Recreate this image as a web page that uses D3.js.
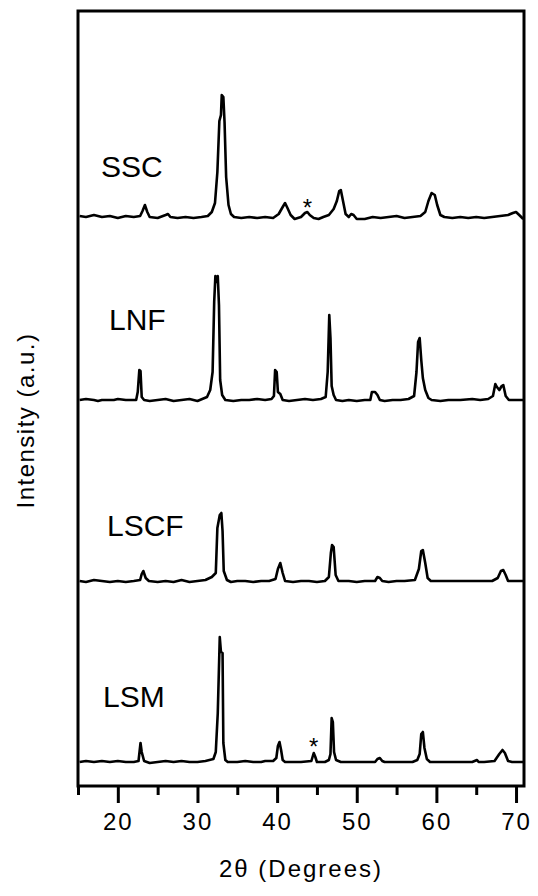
<!DOCTYPE html>
<html>
<head>
<meta charset="utf-8">
<script src="https://cdn.jsdelivr.net/npm/d3@7"></script>
<style>
  body { margin: 0; background: #fff; }
  text { font-family: "Liberation Sans", Arial, sans-serif; fill: #000; }
</style>
</head>
<body>
<div id="chart-area"></div>
<script>
// sample names, top to bottom
var samples = ["SSC", "LNF", "LSCF", "LSM"];

// vertical offset of each trace (intensity units, a.u.)
var offsets = [569, 386, 205, 24];

// [2theta, intensity]
var ssc = [[15.2,1],[16,0],[17,2],[18,0],[19,1],[20,-1],[21,1],[22,0],[22.8,1],[23.1,6],[23.4,12],[23.7,5],[24,0],[25,-1],[26,2],[26.3,3],[26.6,0],[27.5,-1],[28.5,0],[29.5,-1],[30.5,0],[31.3,1],[31.8,5],[32.2,14],[32.5,45],[32.75,96],[32.95,102],[33.05,122],[33.25,120],[33.4,95],[33.6,40],[33.9,12],[34.2,3],[34.6,0],[35.5,-1],[36.5,0],[37.5,-1],[38.5,0],[39.5,-1],[40.2,3],[40.7,10],[41.0,14],[41.3,9],[41.7,2],[42.2,-2],[43,0],[43.5,4],[43.8,5],[44.1,2],[44.6,-1],[45.2,-2],[45.8,0],[46.5,2],[47.1,8],[47.5,16],[47.8,26],[48.0,27],[48.3,15],[48.6,3],[49.0,0],[49.3,3],[49.6,2],[50,-2],[51,-2],[52,0],[53,-1],[54,0],[55,1],[56,-1],[57,0],[58,1],[58.6,5],[59.0,16],[59.4,24],[59.8,22],[60.1,12],[60.5,2],[61,0],[62,-1],[63,0],[64,-1],[65,0],[66,-1],[67,0],[68,1],[69,2],[69.6,4],[70.0,5],[70.4,2],[70.9,-2]];

var lnf = [[15.2,0],[16,1],[17,0],[17.5,-1],[18,0],[19.5,0],[20,1],[21,0],[22.3,0],[22.5,8],[22.7,30],[22.85,29],[23.0,3],[23.3,0],[24,-1],[25,0],[26,1],[27,-1],[28,0],[29,1],[30,-1],[30.6,1],[31.2,3],[31.6,10],[31.9,28],[32.1,98],[32.25,124],[32.4,118],[32.55,124],[32.7,95],[32.85,20],[33.1,5],[33.5,0],[34.5,-1],[35.5,0],[36.5,0],[37.5,1],[38.5,0],[39.3,1],[39.6,4],[39.75,30],[39.95,28],[40.1,8],[40.4,6],[40.7,0],[41.5,-1],[42.5,0],[43.5,1],[44.5,0],[45.5,1],[46.1,3],[46.35,28],[46.55,85],[46.7,62],[46.85,14],[47.1,5],[47.4,0],[48.2,-1],[49,0],[50,-1],[51,0],[51.7,0],[51.9,8],[52.3,8],[52.6,5],[52.9,0],[53.5,-1],[54.5,0],[55.5,0],[56.5,1],[57.2,4],[57.5,28],[57.7,58],[57.9,62],[58.1,40],[58.3,22],[58.6,10],[59,2],[59.4,0],[60.5,-1],[61.5,0],[63,0],[64.5,1],[65.5,0],[66.5,1],[67.1,4],[67.4,16],[67.6,13],[67.9,10],[68.2,14],[68.4,15],[68.7,4],[69.1,0],[70,0],[70.9,0]];

var lscf = [[15.2,0],[16,-1],[17,1],[18,0],[19,-1],[20,0],[21,-1],[22,0],[22.8,1],[23.0,7],[23.2,10],[23.5,3],[23.9,0],[25,-1],[26,0],[27,-1],[28,1],[29,-1],[30,0],[31,1],[31.8,4],[32.3,8],[32.5,53],[32.8,66],[33.0,68],[33.15,50],[33.3,10],[33.7,1],[34.2,-1],[35,0],[36,0],[37,-1],[38,0],[39,0],[39.8,2],[40.1,12],[40.4,18],[40.7,8],[41,0],[42,-1],[43,0],[44,0],[45,-1],[46,0],[46.5,4],[46.75,28],[46.9,36],[47.1,34],[47.35,6],[47.7,0],[49,0],[50,-1],[51,0],[52.3,0],[52.6,4],[52.9,3],[53.2,0],[54,-1],[55,0],[56,0],[57.3,1],[57.8,12],[58.1,30],[58.3,31],[58.6,18],[58.9,3],[59.3,0],[61,0],[63,0],[65,0],[67,0],[67.7,3],[68.1,10],[68.4,11],[68.7,6],[69,0],[70.9,0]];

var lsm = [[15.2,0],[16,1],[17,0],[18,1],[19,0],[20,1],[21,0],[22,0],[22.6,1],[22.85,19],[23.0,10],[23.3,1],[24,-1],[25,0],[26,1],[27,0],[28,1],[29,0],[30,0],[31,1],[32.0,3],[32.3,10],[32.55,49],[32.8,125],[32.95,110],[33.15,109],[33.25,19],[33.5,2],[33.8,0],[35,0],[36,1],[37,0],[38,0],[38.5,1],[39.5,1],[39.9,4],[40.1,16],[40.3,20],[40.5,12],[40.7,2],[41,0],[42,0],[43,0],[44.3,1],[44.6,9],[44.8,5],[45,0],[46,0],[46.5,2],[46.7,8],[46.85,44],[47.0,40],[47.15,10],[47.4,2],[48,0],[50,0],[52.3,0],[52.6,3],[52.9,4],[53.2,1],[53.5,0],[55,0],[57,0],[57.6,2],[57.9,8],[58.1,28],[58.3,30],[58.5,14],[58.8,3],[59.2,0],[61,0],[63,0],[64.5,0],[65.1,2],[65.3,0],[66,0],[67.3,1],[67.9,8],[68.3,12],[68.6,9],[69,1],[69.5,0],[70.9,0]];

// impurity markers: [sample index, 2theta, intensity above trace]
var stars = [[0, 43.8, 15], [3, 44.6, 21]];

var majorTicks = [20, 30, 40, 50, 60, 70];
var minorTicks = [15, 25, 35, 45, 55, 65];

var traces = [ssc, lnf, lscf, lsm];

var margin = { left: 78, right: 14, top: 11, bottom: 110 };
var width = 538 - margin.left - margin.right;
var height = 896 - margin.top - margin.bottom;

var x = d3.scaleLinear()
	.domain([15, 71])
	.range([0, width]);

var y = d3.scaleLinear()
	.domain([0, 775])
	.range([height, 0]);

var svg = d3.select("#chart-area").append("svg")
	.attr("width", 538)
	.attr("height", 896);

var g = svg.append("g")
	.attr("transform", "translate(" + margin.left + ", " + margin.top + ")");

// minor ticks first, then major with labels
g.append("g")
	.attr("transform", "translate(0, " + height + ")")
	.call(d3.axisBottom(x).tickValues(minorTicks).tickSize(9).tickFormat(""))
	.call(function(a){
		a.select(".domain").remove();
		a.selectAll("line").attr("stroke-width", 3);
	});

g.append("g")
	.attr("class", "x-axis")
	.attr("transform", "translate(0, " + height + ")")
	.call(d3.axisBottom(x).tickValues(majorTicks).tickSize(17).tickPadding(10).tickFormat(d3.format("d")))
	.call(function(a){
		a.select(".domain").remove();
		a.selectAll("line").attr("stroke-width", 3);
		a.selectAll("text")
			.attr("font-size", "24px")
			.attr("letter-spacing", "2px")
			.attr("font-family", "Liberation Sans, Arial, sans-serif")
			.attr("fill", "#000");
	});

// frame
g.append("rect")
	.attr("x", 0)
	.attr("y", 0)
	.attr("width", width)
	.attr("height", height)
	.attr("fill", "none")
	.attr("stroke", "#000")
	.attr("stroke-width", 3);

var line = d3.line()
	.x(function(d){ return x(d[0]); })
	.y(function(d){ return y(d[1]); });

traces.forEach(function(t, i){
	var shifted = t.map(function(p){ return [p[0], p[1] + offsets[i]]; });
	g.append("path")
		.datum(shifted)
		.attr("d", line)
		.attr("fill", "none")
		.attr("stroke", "#000")
		.attr("stroke-width", 2.6)
		.attr("stroke-linejoin", "round");
});

// sample labels
var labelX = [23, 31, 29, 25];
var labelY = [40, 70, 45, 55];
samples.forEach(function(s, i){
	g.append("text")
		.attr("x", labelX[i])
		.attr("y", y(offsets[i]) - labelY[i])
		.attr("font-size", "30px")
		.text(s);
});

stars.forEach(function(s){
	g.append("text")
		.attr("x", x(s[1]))
		.attr("y", y(offsets[s[0]] + s[2]) + 14)
		.attr("text-anchor", "middle")
		.attr("font-size", "24px")
		.text("*");
});

g.append("text")
	.attr("x", width / 2)
	.attr("y", height + 91)
	.attr("font-size", "24px")
	.attr("letter-spacing", "2px")
	.attr("text-anchor", "middle")
	.text("2θ (Degrees)");

g.append("text")
	.attr("x", -(height / 2) - 22)
	.attr("y", -44)
	.attr("font-size", "24px")
	.attr("letter-spacing", "1.5px")
	.attr("text-anchor", "middle")
	.attr("transform", "rotate(-90)")
	.text("Intensity (a.u.)");
</script>
</body>
</html>
